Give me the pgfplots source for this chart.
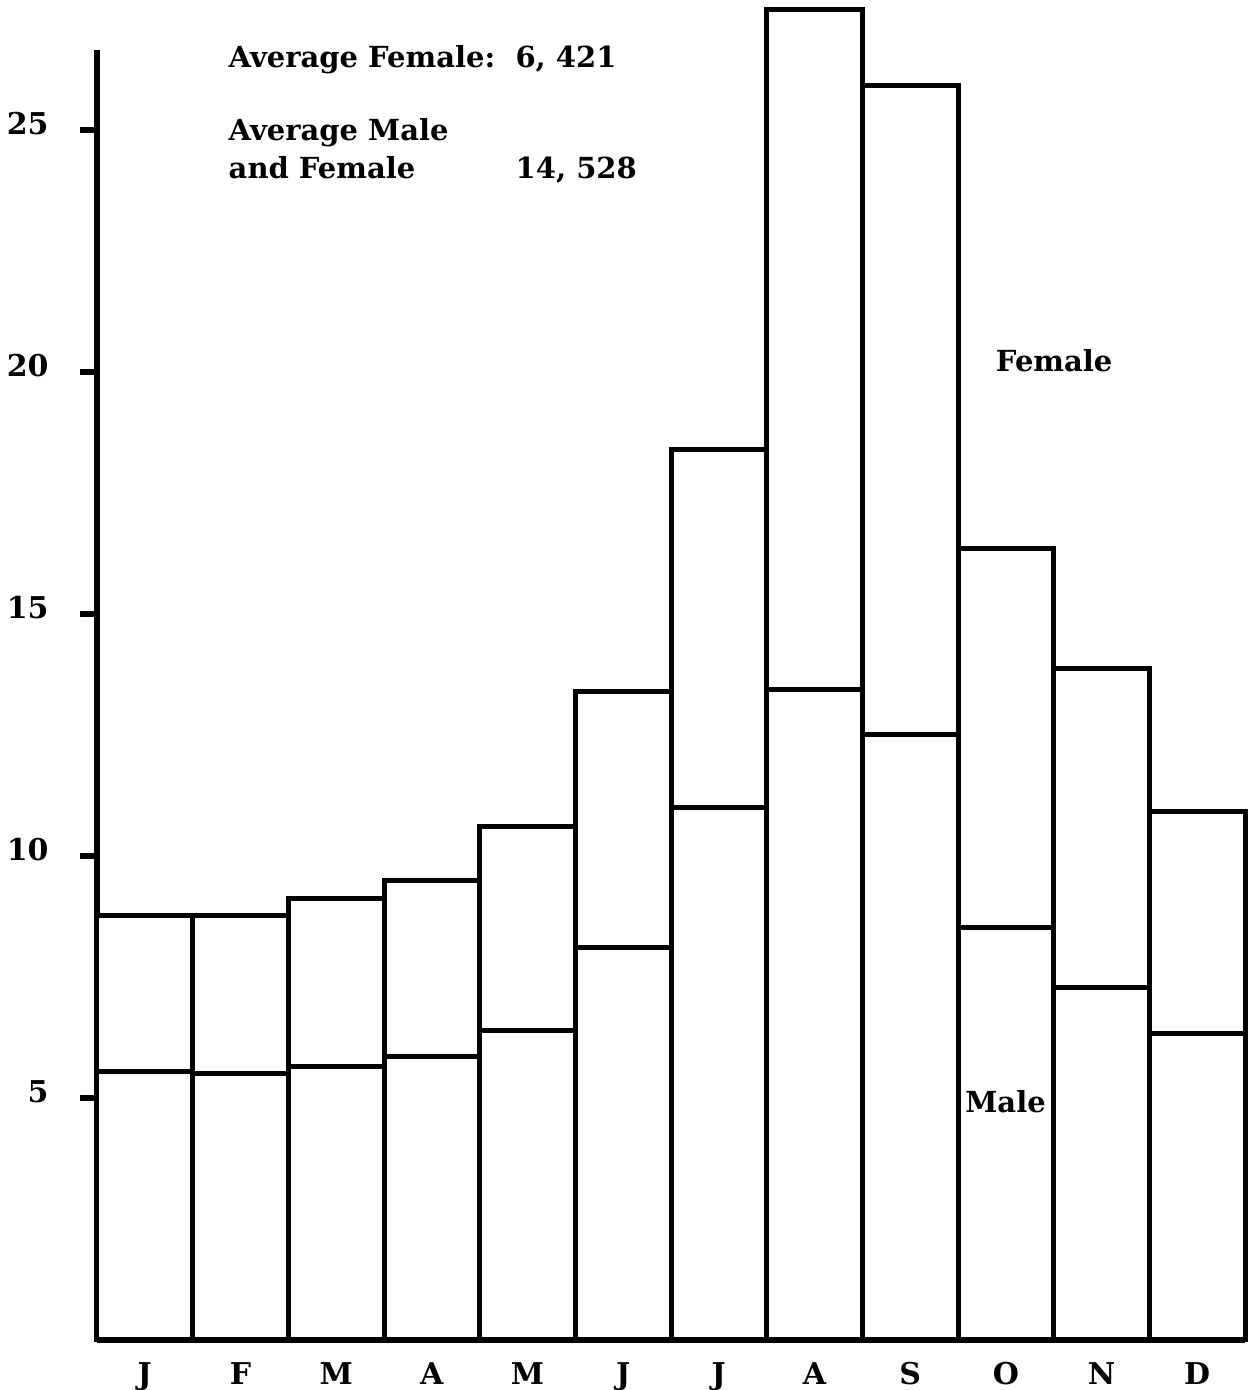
\documentclass[border=0pt]{standalone}
\usepackage{fontspec}
\setmainfont{DejaVu Serif}
\usepackage{pgfplots}
\pgfplotsset{compat=1.18}
\begin{document}
\begin{tikzpicture}
\path[use as bounding box] (-29.1pt,-15pt) rectangle (345.3pt,402pt);
\begin{axis}[
  at={(0,0)}, anchor=south west,
  scale only axis,
  width=344.4pt, height=387pt,
  xmin=0, xmax=12, ymin=0, ymax=26.65,
  clip=false,
  axis x line*=bottom, axis y line*=left,
  axis line style={line width=1.6pt},
  ybar stacked, bar width=1,
  xtick={0.5,1.5,...,11.5},
  xticklabels={J,F,M,A,M,J,J,A,S,O,N,D},
  ytick={5,10,15,20,25},
  xtick style={draw=none},
  ytick style={line width=1.6pt, black},
  tick align=outside,
  major tick length=5pt,
  /pgf/number format/assume math mode=true,
  ticklabel style={font=\fontsize{9}{10}\selectfont\bfseries},
  yticklabel style={xshift=-6pt, yshift=2pt},
  xticklabel style={yshift=1.8pt},
]
\addplot[fill=white, draw=black, line width=1.5pt] coordinates {
 (0.5,5.54) (1.5,5.50) (2.5,5.64) (3.5,5.85) (4.5,6.39) (5.5,8.10)
 (6.5,11.00) (7.5,13.43) (8.5,12.50) (9.5,8.53) (10.5,7.29) (11.5,6.34)};
\addplot[fill=white, draw=black, line width=1.5pt] coordinates {
 (0.5,3.22) (1.5,3.26) (2.5,3.49) (3.5,3.65) (4.5,4.21) (5.5,5.29)
 (6.5,7.39) (7.5,14.05) (8.5,13.41) (9.5,7.83) (10.5,6.59) (11.5,4.57)};
\coordinate (t1) at (axis cs:1.37,26.28);
\coordinate (t2) at (axis cs:1.37,24.77);
\coordinate (t3) at (axis cs:1.37,24.00);
\coordinate (t4) at (axis cs:4.37,24.00);
\coordinate (t5) at (axis cs:9.39,20.00);
\coordinate (t6) at (axis cs:9.07,4.71);
\end{axis}
\begin{scope}[every node/.style={anchor=base west, inner sep=0pt, font=\fontsize{8.7}{10}\selectfont\bfseries}]
\node at (t1) {Average Female:\ \ 6, 421};
\node at (t2) {Average Male};
\node at (t3) {and Female};
\node at (t4) {14, 528};
\node at (t5) {Female};
\node at (t6) {Male};
\end{scope}
\end{tikzpicture}
\end{document}
